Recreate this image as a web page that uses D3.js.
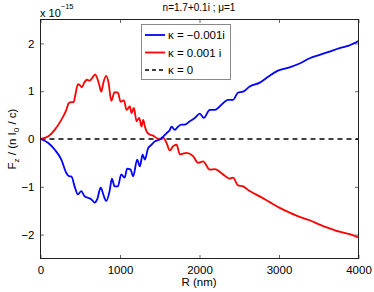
<!DOCTYPE html>
<html>
<head>
<meta charset="utf-8">
<script src="https://cdn.jsdelivr.net/npm/d3@7"></script>
<style>
  body { margin: 0; background: #fff; }
  svg { display: block; font-family: "Liberation Sans", Arial, sans-serif; }
</style>
</head>
<body>
<div id="root"></div>
<script>
// kappa = -0.001i (blue)
const blueR = [0, 94, 178, 262, 325, 366, 388, 429, 471, 513, 555, 597, 638, 681, 714, 756, 798, 827, 869, 898, 932, 974, 1015, 1058, 1090, 1133, 1166, 1216, 1250, 1284, 1313, 1354, 1397, 1438, 1501, 1543, 1585, 1627, 1648, 1690, 1731, 1774, 1815, 1878, 1941, 2004, 2054, 2129, 2192, 2296, 2359, 2422, 2485, 2548, 2632, 2758, 2862, 2987, 3134, 3260, 3386, 3511, 3637, 3762, 3888, 4000];
const blueF = [0, -0.08, -0.22, -0.43, -0.71, -0.78, -0.78, -0.99, -1.16, -1.09, -1.20, -1.23, -1.26, -1.33, -1.26, -1.02, -1.20, -1.30, -1.09, -0.83, -0.99, -0.99, -0.74, -0.81, -0.62, -0.64, -0.78, -0.43, -0.57, -0.33, -0.43, -0.19, -0.12, -0.05, -0.01, 0.05, 0.12, 0.19, 0.26, 0.19, 0.26, 0.30, 0.30, 0.37, 0.44, 0.53, 0.44, 0.61, 0.61, 0.75, 0.82, 0.82, 0.97, 0.99, 1.10, 1.18, 1.30, 1.43, 1.50, 1.58, 1.69, 1.76, 1.83, 1.90, 1.96, 2.05];

// kappa = 0.001 i (red)
const redR = [0, 94, 178, 262, 325, 355, 388, 417, 438, 471, 492, 521, 547, 584, 618, 638, 660, 689, 714, 744, 764, 794, 827, 857, 890, 932, 974, 1007, 1049, 1083, 1124, 1146, 1175, 1208, 1241, 1271, 1292, 1313, 1334, 1376, 1417, 1460, 1501, 1543, 1585, 1627, 1668, 1711, 1753, 1837, 1920, 1982, 2045, 2129, 2192, 2296, 2381, 2422, 2485, 2548, 2632, 2758, 2883, 3009, 3134, 3260, 3386, 3511, 3637, 3762, 3888, 4000];
const redF = [0, 0.05, 0.19, 0.40, 0.61, 0.75, 0.77, 0.77, 0.92, 1.15, 1.13, 1.08, 1.17, 1.24, 1.22, 1.25, 1.30, 1.35, 1.27, 1.10, 0.99, 1.20, 1.32, 1.17, 0.80, 0.98, 0.97, 0.78, 0.81, 0.61, 0.68, 0.54, 0.65, 0.37, 0.44, 0.26, 0.40, 0.26, 0.16, 0.09, 0.07, 0.02, 0, 0.03, -0.08, -0.24, -0.15, -0.12, -0.32, -0.29, -0.36, -0.50, -0.47, -0.64, -0.63, -0.74, -0.83, -0.81, -0.97, -0.99, -1.09, -1.20, -1.32, -1.44, -1.54, -1.63, -1.70, -1.79, -1.87, -1.94, -1.99, -2.06];

// kappa = 0 (black dashed)
const zeroR = [0, 4000];
const zeroF = [0, 0];

const xTicks = [0, 1000, 2000, 3000, 4000];
const yTicks = [-2, -1, 0, 1, 2];
const legendLabels = ["κ = −0.001i", "κ = 0.001 i", "κ = 0"];

const width = 374, height = 292;
const mLeft = 40.5, mRight = 358.5, mTop = 19.5, mBottom = 258.5;

const svg = d3.select("#root").append("svg")
  .attr("width", width)
  .attr("height", height);

const x = d3.scaleLinear().domain([0, 4000]).range([mLeft, mRight]);
const y = d3.scaleLinear().domain([-2.5, 2.5]).range([mBottom, mTop]);

// ticks on all four sides, pointing inward
const tickLen = 3.5;
svg.append("g")
  .attr("transform", `translate(0,${mBottom})`)
  .call(d3.axisBottom(x).tickValues(xTicks).tickSize(-tickLen).tickPadding(7)
      .tickFormat(d3.format("d")))
  .call(g => g.select(".domain").remove())
  .call(g => g.selectAll("line").attr("stroke", "#666"))
  .call(g => g.selectAll("text").attr("font-size", 11.5).attr("fill", "#000")
      .attr("font-family", "Liberation Sans, Arial, sans-serif"));
svg.append("g")
  .attr("transform", `translate(0,${mTop})`)
  .call(d3.axisTop(x).tickValues(xTicks).tickSize(-tickLen).tickFormat(""))
  .call(g => g.select(".domain").remove())
  .call(g => g.selectAll("line").attr("stroke", "#666"));
svg.append("g")
  .attr("transform", `translate(${mLeft},0)`)
  .call(d3.axisLeft(y).tickValues(yTicks).tickSize(-tickLen).tickPadding(6)
      .tickFormat(d => d < 0 ? "−" + Math.abs(d) : d))
  .call(g => g.select(".domain").remove())
  .call(g => g.selectAll("line").attr("stroke", "#666"))
  .call(g => g.selectAll("text").attr("font-size", 11.5).attr("fill", "#000")
      .attr("font-family", "Liberation Sans, Arial, sans-serif"));
svg.append("g")
  .attr("transform", `translate(${mRight},0)`)
  .call(d3.axisRight(y).tickValues(yTicks).tickSize(-tickLen).tickFormat(""))
  .call(g => g.select(".domain").remove())
  .call(g => g.selectAll("line").attr("stroke", "#666"));

// curves
const line = d3.line().x(d => x(d[0])).y(d => y(d[1]));
const plot = svg.append("g");

plot.append("path")
  .datum(zeroR.map((r, i) => [r, zeroF[i]]))
  .attr("d", line).attr("fill", "none")
  .attr("stroke", "#000").attr("stroke-width", 1.6).attr("stroke-dasharray", "5,4");
plot.append("path")
  .datum(redR.map((r, i) => [r, redF[i]]))
  .attr("d", line.curve(d3.curveMonotoneX)).attr("fill", "none")
  .attr("stroke", "#ff0000").attr("stroke-width", 1.8).attr("stroke-linejoin", "round");
plot.append("path")
  .datum(blueR.map((r, i) => [r, blueF[i]]))
  .attr("d", line.curve(d3.curveMonotoneX)).attr("fill", "none")
  .attr("stroke", "#0000ff").attr("stroke-width", 1.8).attr("stroke-linejoin", "round");

// box
svg.append("rect")
  .attr("x", mLeft).attr("y", mTop)
  .attr("width", mRight - mLeft).attr("height", mBottom - mTop)
  .attr("fill", "none").attr("stroke", "#222").attr("stroke-width", 1);

// legend
const legend = svg.append("g");
legend.append("rect")
  .attr("x", 141.5).attr("y", 24.5).attr("width", 89).attr("height", 55)
  .attr("fill", "#fff").attr("stroke", "#888").attr("stroke-width", 1);
const legendColors = ["#0000ff", "#ff0000", "#000"];
const legendY = [35, 52.5, 70];
legendLabels.forEach((lab, i) => {
  legend.append("line")
    .attr("x1", 145).attr("x2", 165).attr("y1", legendY[i]).attr("y2", legendY[i])
    .attr("stroke", legendColors[i]).attr("stroke-width", i === 2 ? 1.6 : 1.8)
    .attr("stroke-dasharray", i === 2 ? "4,3" : null);
  legend.append("text")
    .attr("x", 168).attr("y", legendY[i] + 4)
    .attr("font-size", 11.5).text(lab);
});

// title
svg.append("text")
  .attr("x", 199).attr("y", 11).attr("text-anchor", "middle")
  .attr("font-size", 10).text("n=1.7+0.1i ; μ=1");

// exponent
const expo = svg.append("text").attr("x", 40).attr("y", 17).attr("font-size", 11);
expo.append("tspan").text("x 10");
expo.append("tspan").attr("dy", -8).attr("font-size", 7.5).text("−15");

// x label
svg.append("text")
  .attr("x", 199).attr("y", 286).attr("text-anchor", "middle")
  .attr("font-size", 11.5).text("R (nm)");

// y label
const yl = svg.append("text")
  .attr("transform", "translate(16,139) rotate(-90)")
  .attr("text-anchor", "middle").attr("font-size", 11.5);
yl.append("tspan").text("F");
yl.append("tspan").attr("dy", 3).attr("font-size", 8).text("z");
yl.append("tspan").attr("dy", -3).text(" / (n I");
yl.append("tspan").attr("dy", 3).attr("font-size", 8).text("0");
yl.append("tspan").attr("dy", -3).text(" / c)");
</script>
</body>
</html>
